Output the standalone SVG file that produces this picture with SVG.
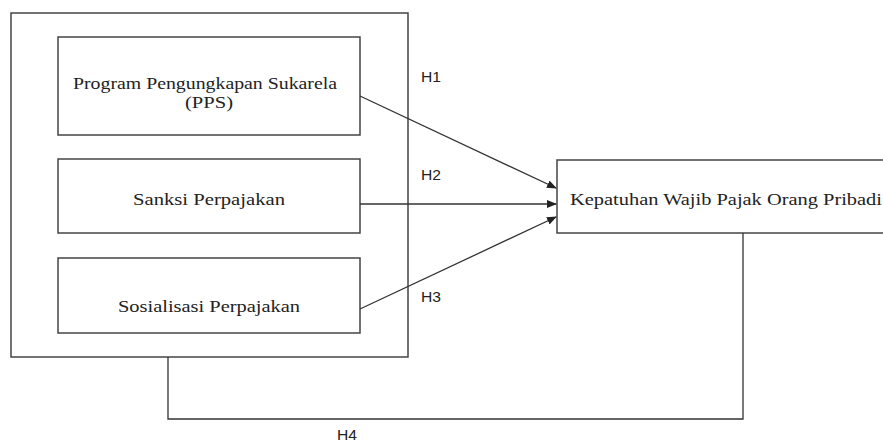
<svg xmlns="http://www.w3.org/2000/svg" width="883" height="443" viewBox="0 0 883 443">
<defs>
<marker id="arr" markerWidth="10" markerHeight="8" refX="9" refY="4" orient="auto" markerUnits="userSpaceOnUse">
<path d="M0,0 L10,4 L0,8 Z" fill="#222"/>
</marker>
</defs>
<style>
.box{fill:#fff;stroke:#444;stroke-width:1.5}
.lbl{font-family:"Liberation Serif","Times New Roman",serif;font-size:16px;fill:#222;text-anchor:middle}
.h{font-family:"Liberation Sans",Arial,sans-serif;font-size:14px;fill:#222}
.con{fill:none;stroke:#333;stroke-width:1.3}
</style>
<rect width="883" height="443" fill="#fff"/>
<g id="group">
<rect class="box" x="11" y="13" width="397" height="344"/>
</g>
<g id="pps">
<rect class="box" x="58" y="37" width="302" height="98"/>
<text class="lbl" x="205" y="89" textLength="264" lengthAdjust="spacingAndGlyphs">Program Pengungkapan Sukarela</text>
<text class="lbl" x="209" y="108" textLength="48" lengthAdjust="spacingAndGlyphs">(PPS)</text>
</g>
<g id="sanksi">
<rect class="box" x="58" y="159" width="302" height="74"/>
<text class="lbl" x="209" y="205" textLength="152" lengthAdjust="spacingAndGlyphs">Sanksi Perpajakan</text>
</g>
<g id="sosialisasi">
<rect class="box" x="58" y="258" width="302" height="75"/>
<text class="lbl" x="209" y="312" textLength="182" lengthAdjust="spacingAndGlyphs">Sosialisasi Perpajakan</text>
</g>
<g id="kepatuhan">
<rect class="box" x="557" y="160" width="340" height="73"/>
<text class="lbl" x="570" y="205" style="text-anchor:start" textLength="312" lengthAdjust="spacingAndGlyphs">Kepatuhan Wajib Pajak Orang Pribadi</text>
</g>
<g id="connectors">
<line class="con" x1="360" y1="96" x2="556" y2="188" marker-end="url(#arr)"/>
<line class="con" x1="360" y1="204" x2="556" y2="204" marker-end="url(#arr)"/>
<line class="con" x1="360" y1="309" x2="556" y2="217" marker-end="url(#arr)"/>
<polyline class="con" points="168,357 168,419 743,419 743,233"/>
<text class="h" x="421" y="82" textLength="20" lengthAdjust="spacingAndGlyphs">H1</text>
<text class="h" x="421" y="180" textLength="20" lengthAdjust="spacingAndGlyphs">H2</text>
<text class="h" x="421" y="302" textLength="20" lengthAdjust="spacingAndGlyphs">H3</text>
<text class="h" x="337" y="440" textLength="20" lengthAdjust="spacingAndGlyphs">H4</text>
</g>
</svg>
